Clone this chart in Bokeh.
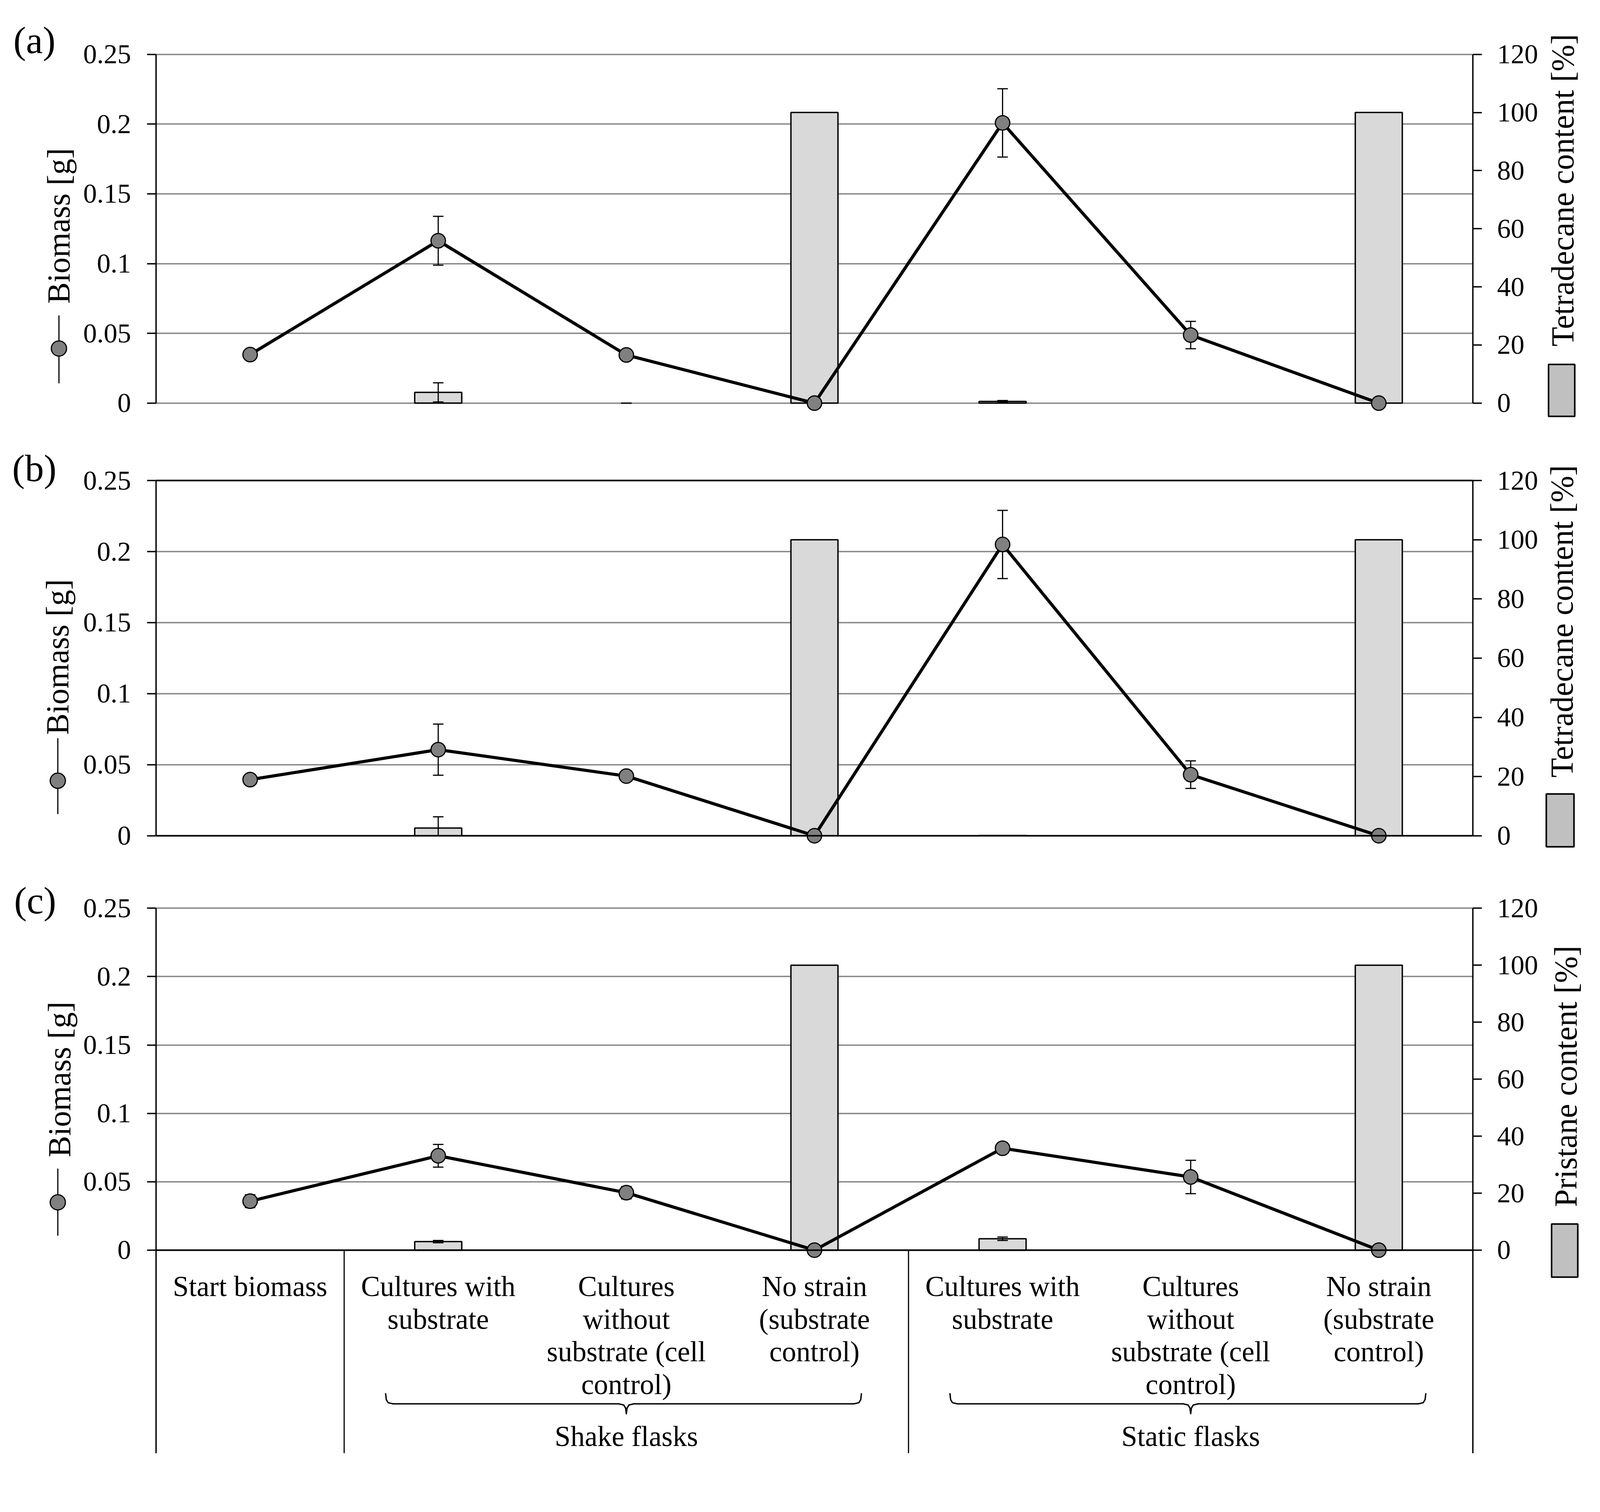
import math

from bokeh.core.properties import value
from bokeh.embed import file_html
from bokeh.layouts import column, row
from bokeh.models import FixedTicker, LinearAxis, Range1d, Span
from bokeh.plotting import figure
from bokeh.resources import INLINE

# categories (one entry per column of the table, split into text lines)
categories = [
    ["Start biomass"],
    ["Cultures with", "substrate"],
    ["Cultures", "without", "substrate (cell", "control)"],
    ["No strain", "(substrate", "control)"],
    ["Cultures with", "substrate"],
    ["Cultures", "without", "substrate (cell", "control)"],
    ["No strain", "(substrate", "control)"],
]
groups = ["Shake flasks", "Static flasks"]
group_members = [[1, 2, 3], [4, 5, 6]]

# biomass [g] (line) and its error
biomass_a = [0.0348, 0.1164, 0.0345, 0.0, 0.2009, 0.0488, 0.0]
biomass_a_err = [None, 0.0175, None, None, 0.0245, 0.0098, None]
biomass_b = [0.0395, 0.0606, 0.0420, 0.0, 0.2050, 0.0430, 0.0]
biomass_b_err = [None, 0.0180, None, None, 0.0240, 0.0097, None]
biomass_c = [0.0358, 0.0690, 0.0420, 0.0, 0.0745, 0.0535, 0.0]
biomass_c_err = [0.0047, 0.0083, 0.0045, None, 0.0040, 0.0122, None]

# substrate content [%] (bars) and its error
tetradecane_a = [None, 3.7, 0.0, 100.0, 0.6, None, 100.0]
tetradecane_a_err = [None, 3.3, 0.0, None, 0.3, None, None]
tetradecane_b = [None, 2.6, None, 100.0, 0.1, None, 100.0]
tetradecane_b_err = [None, 3.8, None, None, None, None, None]
pristane_c = [None, 3.0, None, 100.0, 4.0, None, 100.0]
pristane_c_err = [None, 0.4, None, None, 0.6, None, None]

biomass_ticks = [0.0, 0.05, 0.1, 0.15, 0.2, 0.25]
biomass_tick_labels = ["0", "0.05", "0.1", "0.15", "0.2", "0.25"]
content_ticks = [0, 20, 40, 60, 80, 100, 120]

FONT = "Liberation Serif"
GRID = "#868686"
BAR = "#d9d9d9"
MARK = "#808080"
LEG = "#c0c0c0"

# page layout: css pixels, and the picture pixels they land on
SCALE = 1.029
SHIFT = 7


def pic(css):
    return css * SCALE - SHIFT


LEFT_G = (8, 210)
FRAME_L = 407
FRAME_W = 3371
RIGHT_G = (3955, 4095)
ROWS = [8, 1139, 2242, 3758]


def gutter(x0, x1, top, bottom):
    g = figure(x_range=Range1d(pic(x0), pic(x1)), y_range=Range1d(pic(bottom), pic(top)),
               frame_width=x1 - x0, frame_height=bottom - top,
               min_border_left=0, min_border_right=0, min_border_top=0, min_border_bottom=0,
               x_axis_location=None, y_axis_location=None, title_location=None,
               output_backend="svg", toolbar_location=None)
    g.outline_line_color = None
    g.xgrid.visible = False
    g.ygrid.visible = False
    return g


def error_bars(p, xs, vals, errs, **kw):
    idx = [i for i, v in enumerate(errs) if v is not None]
    ex = [xs[i] for i in idx]
    lo = [vals[i] - errs[i] for i in idx]
    hi = [vals[i] + errs[i] for i in idx]
    # the plot area starts at 0, so bars are cut there
    p.segment(x0=ex, y0=[max(v, 0) for v in lo], x1=ex, y1=hi, line_color="black",
              line_width=3, **kw)
    for ys in (lo, hi):
        keep = [k for k, v in enumerate(ys) if v >= 0]
        p.segment(x0=[ex[k] - 0.028 for k in keep], y0=[ys[k] for k in keep],
                  x1=[ex[k] + 0.028 for k in keep], y1=[ys[k] for k in keep],
                  line_color="black", line_width=3, **kw)


def make_panel(letter, biomass, biomass_err, content, content_err, content_title,
               top, bottom, y25, y0, black_lines, pos, table_bottom=None):
    ptop, pbot = pic(top), pic(bottom)
    ppu = (y0 - y25) / 0.25
    ylo = -(pbot - y0) / ppu
    yhi = 0.25 + (y25 - ptop) / ppu
    p = figure(x_range=Range1d(0, 7), y_range=Range1d(ylo, yhi),
               frame_width=FRAME_W, frame_height=bottom - top,
               min_border_left=FRAME_L - LEFT_G[1],
               min_border_right=RIGHT_G[0] - FRAME_L - FRAME_W,
               min_border_top=0, min_border_bottom=0,
               x_axis_location=None, title_location=None,
               output_backend="svg", toolbar_location=None)
    p.outline_line_color = None
    p.extra_y_ranges = {"pct": Range1d(ylo * 480, yhi * 480),
                        "page": Range1d(pbot, ptop)}

    low = 0.0 if table_bottom is None else -(table_bottom - y0) / ppu
    p.yaxis.ticker = FixedTicker(ticks=biomass_ticks)
    overrides = {}
    for t, s in zip(biomass_ticks, biomass_tick_labels):
        overrides[t] = s
        overrides[str(t)] = s
    overrides["0"] = "0"
    p.yaxis.major_label_overrides = overrides
    p.yaxis.bounds = (low, 0.25)
    right = LinearAxis(y_range_name="pct", ticker=FixedTicker(ticks=content_ticks),
                       bounds=(low * 480, 120))
    p.add_layout(right, "right")
    for ax in (p.yaxis[0], right):
        ax.axis_line_width = 3.5
        ax.axis_line_color = "black"
        ax.major_tick_line_width = 3.5
        ax.major_tick_out = 23
        ax.major_tick_in = 0
        ax.minor_tick_line_color = None
        ax.major_label_text_font = FONT
        ax.major_label_text_font_size = "70px"
        ax.major_label_text_color = "black"
    p.yaxis[0].major_label_standoff = 41
    right.major_label_standoff = 39
    p.xgrid.visible = False
    p.ygrid.grid_line_color = GRID
    p.ygrid.grid_line_width = 3.5

    for loc in black_lines:
        p.add_layout(Span(location=loc, dimension="width", line_color="black", line_width=4))

    xs = [i + 0.5 for i in range(len(categories))]

    # bars (right axis)
    bi = [i for i, v in enumerate(content) if v]
    p.vbar(x=[xs[i] for i in bi], top=[content[i] for i in bi], bottom=0, width=0.25,
           y_range_name="pct", fill_color=BAR, line_color="black", line_width=3.5)
    error_bars(p, xs, content, content_err, y_range_name="pct")

    # biomass line
    p.line(xs, biomass, line_color="black", line_width=8, line_join="round")
    error_bars(p, xs, biomass, biomass_err)
    p.scatter(xs, biomass, size=37, fill_color=MARK, line_color="black", line_width=3)

    if table_bottom is not None:
        # category table below the x axis (picture y coordinates)
        seps = [min(m) for m in group_members]
        p.segment(x0=seps, y0=[y0] * len(seps), x1=seps, y1=[table_bottom] * len(seps),
                  y_range_name="page", line_color="black", line_width=3)
        tx, ty, tt = [], [], []
        for i, lines in enumerate(categories):
            for k, line in enumerate(lines):
                tx.append(i + 0.5)
                ty.append(y0 + 96 + 86 * k)
                tt.append(line)
        p.text(x=tx, y=ty, text=tt, y_range_name="page", text_font=value(FONT),
               text_font_size="73px", text_align="center", text_baseline="middle",
               text_color="black")
        bxs, bys = [], []
        for m in group_members:
            xl = min(m) + 0.22
            xr = max(m) + 1 - 0.25
            xc = (min(m) + max(m) + 1) / 2
            bxs.append([xl, xl + 0.004, xl + 0.014, xl + 0.04, xc - 0.04, xc - 0.014, xc - 0.004,
                        xc, xc + 0.004, xc + 0.014, xc + 0.04, xr - 0.04, xr - 0.014, xr - 0.004,
                        xr])
            bys.append([y0 + d for d in (377, 394, 402, 405, 405, 408, 416, 431, 416, 408, 405,
                                         405, 402, 394, 377)])
        p.multi_line(xs=bxs, ys=bys, y_range_name="page", line_color="black", line_width=3.5,
                     line_join="round")
        gx = [(min(m) + max(m) + 1) / 2 for m in group_members]
        p.text(x=gx, y=[y0 + 491] * len(gx), text=groups, y_range_name="page",
               text_font=value(FONT), text_font_size="73px", text_align="center",
               text_baseline="middle", text_color="black")

    # left gutter: panel letter, axis title and line/marker key
    gl = gutter(LEFT_G[0], LEFT_G[1], top, bottom)
    gl.text(x=[pos["letter"][0]], y=[pos["letter"][1]], text=[letter], text_font=value(FONT),
            text_font_size="97px", text_align="left", text_baseline="middle", text_color="black")
    gl.text(x=[pos["ltitle"][0]], y=[pos["ltitle"][1]], text=["Biomass [g]"], angle=math.pi / 2,
            text_font=value(FONT), text_font_size="82px", text_align="center",
            text_baseline="middle", text_color="black")
    symx, l0, l1, cy = pos["symbol"]
    gl.segment(x0=[symx], y0=[l0], x1=[symx], y1=[l1], line_color="black", line_width=3)
    gl.scatter([symx], [cy], size=39, fill_color=MARK, line_color="black", line_width=3)

    # right gutter: axis title and bar key
    gr = gutter(RIGHT_G[0], RIGHT_G[1], top, bottom)
    gr.text(x=[pos["rtitle"][0]], y=[pos["rtitle"][1]], text=[content_title], angle=math.pi / 2,
            text_font=value(FONT), text_font_size="82px", text_align="center",
            text_baseline="middle", text_color="black")
    bx0, bx1, by0, by1 = pos["legbox"]
    gr.quad(left=[bx0], right=[bx1], top=[by0], bottom=[by1], fill_color=LEG,
            line_color="black", line_width=4)

    return row(gl, p, gr)


ra = make_panel("(a)", biomass_a, biomass_a_err, tetradecane_a, tetradecane_a_err,
                "Tetradecane content [%]", ROWS[0], ROWS[1], 144, 1063, [],
                {"letter": (36, 107), "ltitle": (156, 596), "rtitle": (4117, 502),
                 "symbol": (156, 832, 1011, 919), "legbox": (4080, 4149, 961, 1098)})
rb = make_panel("(b)", biomass_b, biomass_b_err, tetradecane_b, tetradecane_b_err,
                "Tetradecane content [%]", ROWS[1], ROWS[2], 1267, 2203, [0, 0.25],
                {"letter": (33, 1235), "ltitle": (153, 1732), "rtitle": (4115, 1638),
                 "symbol": (153, 1946, 2146, 2058), "legbox": (4074, 4147, 2093, 2232)})
rc = make_panel("(c)", biomass_c, biomass_c_err, pristane_c, pristane_c_err,
                "Pristane content [%]", ROWS[2], ROWS[3], 2394, 3295, [0],
                {"letter": (38, 2374), "ltitle": (158, 2845), "rtitle": (4125, 2837),
                 "symbol": (153, 3080, 3257, 3169), "legbox": (4088, 4157, 3226, 3366)},
                table_bottom=3830)

p = column(ra, rb, rc)
open("out.html", "w").write(file_html(p, INLINE))
